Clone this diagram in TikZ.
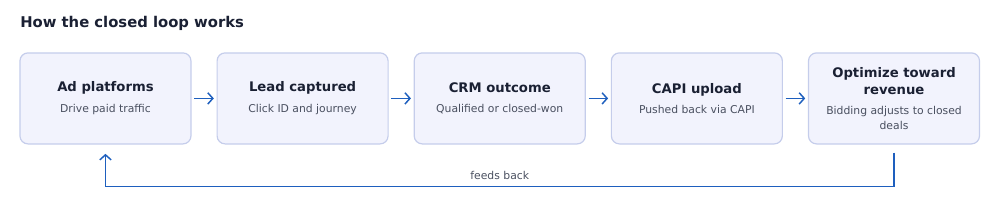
\documentclass[tikz,border=0pt]{standalone}
\usepackage{fontspec}
\setmainfont{DejaVu Sans}
\definecolor{loopnavy}{HTML}{1A2033}
\definecolor{loopgrey}{HTML}{4A5060}
\definecolor{loopblue}{HTML}{1E5FBE}
\definecolor{loopfill}{HTML}{F2F3FD}
\definecolor{loopedge}{HTML}{C5CDEB}
\usetikzlibrary{arrows.meta, positioning}
\newcommand{\stagehead}[1]{\textcolor{loopnavy}{\fontsize{9.9}{12}\selectfont\bfseries #1}}
\newcommand{\stagenote}[1]{\textcolor{loopgrey}{\fontsize{8.1}{9}\selectfont #1}}

\begin{document}
\begin{tikzpicture}[font=\fontsize{8.1}{11}\selectfont,
  stagebox/.style={draw=loopedge, fill=loopfill, line width=0.9pt, rounded corners=6pt,
    minimum width=128.25pt, minimum height=68.25pt, align=center, inner sep=2pt},
  flow/.style={-{Straight Barb[length=3.8pt, width=8.5pt]}, line width=1.1pt, loopblue}]
  \useasboundingbox (0,0) rectangle (750pt,-153.75pt);
  \node[anchor=base west, font=\fontsize{11.1}{13}\selectfont\bfseries, text=loopnavy, inner sep=0pt]
       (title) at (15pt,-20.5pt) {How the closed loop works};
  \node[stagebox] (ad) at (79.1pt,-73.8pt)
       {\stagehead{Ad platforms}\\[4.5pt]\stagenote{Drive paid traffic}};
  \node[right=18.7pt of ad, stagebox] (lead)
       {\stagehead{Lead captured}\\[4.5pt]\stagenote{Click ID and journey}};
  \node[right=18.7pt of lead, stagebox] (crm)
       {\stagehead{CRM outcome}\\[4.5pt]\stagenote{Qualified or closed-won}};
  \node[right=18.7pt of crm, stagebox] (capi)
       {\stagehead{CAPI upload}\\[4.5pt]\stagenote{Pushed back via CAPI}};
  \node[right=18.7pt of capi, stagebox] (opt)
       {\stagehead{Optimize toward}\\[1.5pt]\stagehead{revenue}\\[4pt]
        \stagenote{Bidding adjusts to closed}\\[0pt]\stagenote{deals}};
  \draw[flow] ([xshift=2pt]ad.east) -- ([xshift=-2pt]lead.west);
  \draw[flow] ([xshift=2pt]lead.east) -- ([xshift=-2pt]crm.west);
  \draw[flow] ([xshift=2pt]crm.east) -- ([xshift=-2pt]capi.west);
  \draw[flow] ([xshift=2pt]capi.east) -- ([xshift=-2pt]opt.west);
  % loop back to the start
  \draw[flow]
       ([yshift=-6pt]opt.south) -- ++(0,-25.5pt) -|
       node[pos=0.25, above=1pt, text=loopgrey]{feeds back}
       ([yshift=-7pt]ad.south);
\end{tikzpicture}
\end{document}
